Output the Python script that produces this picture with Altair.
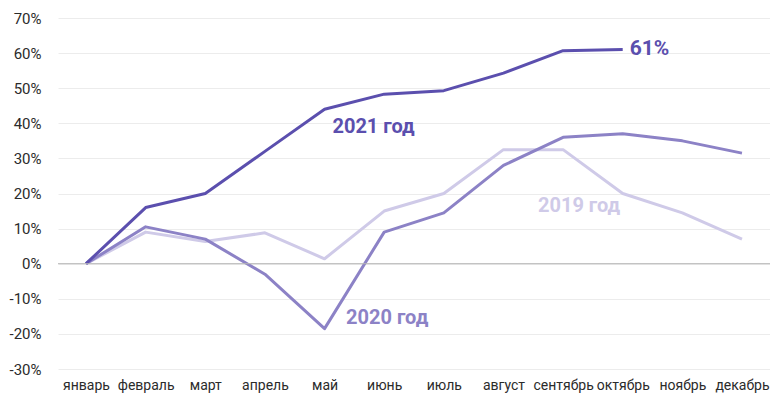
import altair as alt
import pandas as pd

# Monthly change relative to January, %
months = ["январь", "февраль", "март", "апрель", "май", "июнь", "июль",
          "август", "сентябрь", "октябрь", "ноябрь", "декабрь"]
y2019 = [0, 9, 6.3, 8.8, 1.4, 15, 20, 32.5, 32.5, 20, 14.5, 7]
y2020 = [0, 10.5, 7, -3, -18.5, 9, 14.5, 28, 36, 37, 35, 31.5]
y2021 = [0, 16, 20, 32, 44, 48.3, 49.3, 54.3, 60.7, 61]
series = ["2019 год", "2020 год", "2021 год"]
colors = ["#cfcae8", "#8c82c6", "#5b4fae"]
y_ticks = [-30, -20, -10, 0, 10, 20, 30, 40, 50, 60, 70]

rows = []
for name, vals in zip(series, [y2019, y2020, y2021]):
    for m, v in zip(months, vals):
        rows.append({"month": m, "value": v, "series": name})
df = pd.DataFrame(rows)

x_scale = alt.Scale(type="point", padding=0.47)
x_axis = alt.Axis(title=None, domain=False, ticks=False, labelPadding=9,
                  labelFontSize=14, labelColor="#2b2b2b", labelAngle=0,
                  labelFont="Roboto", grid=False, labelOverlap=False)
y_scale = alt.Scale(domain=[-30, 70], nice=False)
y_axis = alt.Axis(title=None, values=y_ticks, labelExpr="datum.value + '%'",
                  domain=False, ticks=False, labelOverlap=False,
                  labelPadding=17, labelFontSize=15, labelColor="#2b2b2b",
                  labelFont="Roboto", gridColor="#ececec", gridWidth=1)


def xe(field="month:N"):
    return alt.X(field, sort=months, scale=x_scale, axis=x_axis)


def ye(field="value:Q"):
    return alt.Y(field, scale=y_scale, axis=y_axis)


lines = alt.Chart(df).mark_line(strokeWidth=3, strokeJoin="round").encode(
    x=xe(),
    y=ye(),
    color=alt.Color("series:N", scale=alt.Scale(domain=series, range=colors), legend=None),
    order=alt.Order("series:N"),
)

zero = alt.Chart(pd.DataFrame({"v": [0]})).mark_rule(color="#b5b5b5", strokeWidth=1).encode(
    y=ye("v:Q")
)

# Series captions
ann = pd.DataFrame({
    "month": ["май", "июнь", "сентябрь"],
    "value": [39, -15.5, 16.5],
    "text": ["2021 год", "2020 год", "2019 год"],
    "series": ["2021 год", "2020 год", "2019 год"],
    "dx": [49, 3, 16],
})

cap_layers = []
for _, r in ann.iterrows():
    cap_layers.append(
        alt.Chart(pd.DataFrame([r])).mark_text(fontSize=20, fontWeight="bold", font="Roboto",
                                               align="center", baseline="middle", dx=int(r["dx"]),
                                               color=colors[series.index(r["series"])]).encode(
            x=xe(),
            y=ye(),
            text="text:N",
        )
    )

last = pd.DataFrame({"month": [months[len(y2021) - 1]], "value": [y2021[-1]]})
last_label = alt.Chart(last).mark_text(fontSize=21, fontWeight="bold", font="Roboto",
                                       align="left", baseline="middle", dx=7, dy=-1,
                                       color=colors[2]).transform_calculate(
    lbl="datum.value + '%'"
).encode(
    x=xe(),
    y=ye(),
    text="lbl:N",
)

chart = alt.layer(lines, zero, *cap_layers, last_label).properties(
    width=712, height=351,
    autosize=alt.AutoSizeParams(type="none"),
    padding={"left": 58, "top": 18, "right": 0, "bottom": 29},
    background="white",
).configure_view(stroke=None)

chart.save("out.html", embed_options={"renderer": "svg", "actions": False})
